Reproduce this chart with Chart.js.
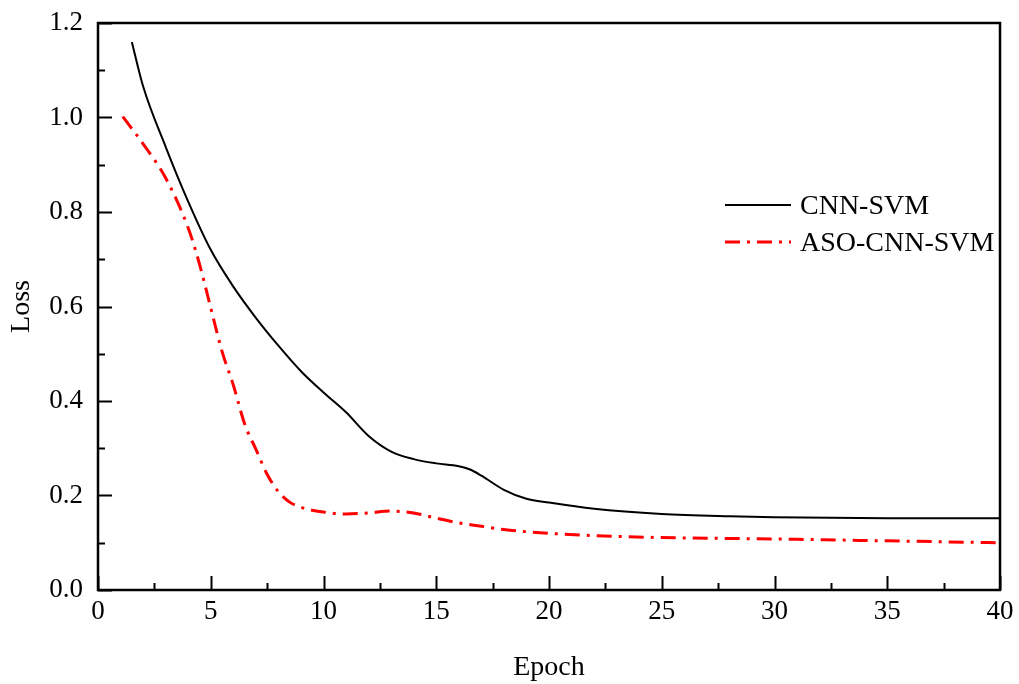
<!DOCTYPE html>
<html>
<head>
<meta charset="utf-8">
<script src="https://cdn.jsdelivr.net/npm/chart.js@4/dist/chart.umd.min.js"></script>
<style>
  body { margin: 0; background: #fff; }
  #wrap { width: 1019px; height: 684px; }
</style>
</head>
<body>
<div id="wrap"><canvas id="myChart" width="1019" height="684"></canvas></div>
<script>
// values
const cnnEpochs = [1.5, 2, 3, 4, 5, 6, 7, 8, 9, 10, 11, 12, 13, 14, 15, 16, 16.5, 17, 18, 19, 20, 22, 25, 28, 30, 35, 40]
const cnnLoss = [1.16, 1.066, 0.938, 0.822, 0.72, 0.642, 0.576, 0.517, 0.463, 0.418, 0.376, 0.326, 0.293, 0.277, 0.268, 0.262, 0.255, 0.242, 0.212, 0.193, 0.185, 0.172, 0.161, 0.156, 0.154, 0.152, 0.152]

const asoEpochs = [1.1, 2, 3, 4, 4.5, 5, 5.5, 6, 6.5, 7, 7.5, 8, 8.5, 9, 10, 11, 12, 13, 14, 15, 16, 17, 18, 20, 22, 25, 30, 35, 40]
const asoLoss = [1.002, 0.944, 0.872, 0.766, 0.69, 0.597, 0.505, 0.434, 0.352, 0.298, 0.245, 0.208, 0.186, 0.175, 0.165, 0.161, 0.163, 0.167, 0.163, 0.152, 0.142, 0.135, 0.128, 0.12, 0.115, 0.111, 0.108, 0.104, 0.1]

const seriesNames = ['CNN-SVM', 'ASO-CNN-SVM']
const xTicks = [0, 5, 10, 15, 20, 25, 30, 35, 40]
const yTicks = [0.0, 0.2, 0.4, 0.6, 0.8, 1.0, 1.2]

const toPoints = (xs, ys) => xs.map((x, i) => ({ x: x, y: ys[i] }))
const serif = "'Liberation Serif', 'Times New Roman', serif"

// frame, inward ticks and the legend are drawn by hand
const framePlugin = {
  id: 'frame',
  afterDraw (chart) {
    const { ctx, chartArea: a, scales: { x, y } } = chart
    ctx.save()
    ctx.strokeStyle = '#000'
    ctx.lineWidth = 2.5
    ctx.strokeRect(a.left, a.top, a.right - a.left, a.bottom - a.top)

    ctx.lineWidth = 2
    ctx.beginPath()
    for (let v = 0; v <= 40.001; v += 2.5) {
      const px = Math.round(x.getPixelForValue(v)) + 0.5
      const len = (v % 5 === 0) ? 14 : 7
      ctx.moveTo(px, a.bottom)
      ctx.lineTo(px, a.bottom - len)
    }
    for (let i = 0; i <= 12; i++) {
      const py = Math.round(y.getPixelForValue(i / 10)) + 0.5
      const len = (i % 2 === 0) ? 14 : 7
      ctx.moveTo(a.left, py)
      ctx.lineTo(a.left + len, py)
    }
    ctx.stroke()

    // legend
    const rows = [205, 242]
    chart.data.datasets.forEach((ds, i) => {
      ctx.strokeStyle = ds.borderColor
      ctx.lineWidth = ds.borderWidth
      ctx.setLineDash(ds.borderDash || [])
      ctx.beginPath()
      ctx.moveTo(725, rows[i])
      ctx.lineTo(791, rows[i])
      ctx.stroke()
      ctx.setLineDash([])
      ctx.fillStyle = '#000'
      ctx.font = '28px ' + serif
      ctx.textBaseline = 'middle'
      ctx.fillText(ds.label, 800, rows[i] + 2)
    })
    ctx.restore()
  }
}

var ctx = document.getElementById('myChart').getContext('2d')
var chart = new Chart(ctx, {
  type: 'line',
  data: {
    datasets: [{
      label: seriesNames[0],
      data: toPoints(cnnEpochs, cnnLoss),
      borderColor: '#000000',
      borderWidth: 2,
      pointRadius: 0,
      cubicInterpolationMode: 'monotone',
    }, {
      label: seriesNames[1],
      data: toPoints(asoEpochs, asoLoss),
      borderColor: '#ff0000',
      borderWidth: 3,
      borderDash: [15, 7, 3, 7],
      pointRadius: 0,
      cubicInterpolationMode: 'monotone',
    }]
  },
  options: {
    responsive: false,
    animation: false,
    layout: { padding: { left: 0, top: 23, right: 19, bottom: 0 } },
    plugins: { legend: { display: false }, tooltip: { enabled: false } },
    scales: {
      x: {
        type: 'linear',
        min: 0,
        max: 40,
        afterBuildTicks: scale => { scale.ticks = xTicks.map(v => ({ value: v })) },
        afterFit: scale => { scale.height = 94; scale.paddingLeft = 0; scale.paddingRight = 0 },
        grid: { display: false, drawTicks: false },
        border: { display: false },
        ticks: { color: '#000', padding: 6, font: { family: serif, size: 27 } },
        title: { display: true, text: 'Epoch', color: '#000', padding: { top: 0, bottom: 0 }, font: { family: serif, size: 28 } }
      },
      y: {
        min: 0,
        max: 1.2,
        afterBuildTicks: scale => { scale.ticks = yTicks.map(v => ({ value: v })) },
        afterFit: scale => { scale.width = 98; scale.paddingTop = 0; scale.paddingBottom = 0 },
        grid: { display: false, drawTicks: false },
        border: { display: false },
        ticks: { color: '#000', padding: 15, font: { family: serif, size: 27 }, callback: v => v.toFixed(1) },
        title: { display: true, text: 'Loss', color: '#000', padding: { top: 5, bottom: 0 }, font: { family: serif, size: 28 } }
      }
    }
  },
  plugins: [framePlugin]
})
</script>
</body>
</html>
